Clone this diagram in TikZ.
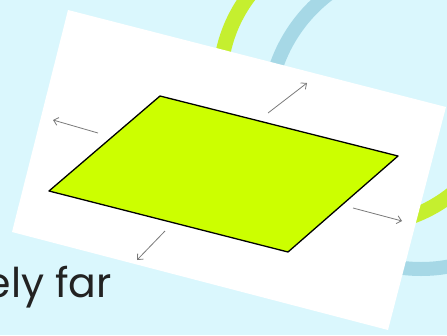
\documentclass[tikz,border=0pt]{standalone}
\usepackage{fontspec}
\setmainfont{Poppins}
\usetikzlibrary{arrows.meta}
\definecolor{bgcol}{HTML}{DAF7FD}
\definecolor{arcgreen}{HTML}{C5EF2F}
\definecolor{arcblue}{HTML}{A6D8E6}
\definecolor{planegreen}{HTML}{CCFF00}
\definecolor{arrowgray}{HTML}{7A7A7A}
\definecolor{textgray}{HTML}{222222}
\tikzset{
  arcband/.style={line width=15pt},
  pushar/.style={draw=arrowgray, line width=0.8pt, -{Straight Barb[length=4.5pt,width=8pt]}},
  plane/.style={fill=planegreen, draw=black, line width=1.3pt, line join=round},
}
\begin{document}
\begin{tikzpicture}[x=1pt,y=-1pt]
\useasboundingbox (0,0) rectangle (447,335);
\clip (0,0) rectangle (447,335);
\fill[bgcol] (0,0) rectangle (447,335);
% background arcs
\draw[arcband, arcgreen] (363,82) circle[radius=143pt];
\draw[arcband, arcblue, line width=14pt] (421,116) circle[radius=153pt];
% partial text
\node[anchor=base east, inner sep=0pt, text=textgray, font=\fontsize{41}{41}\selectfont] (txt) at (112,297) {ely far};
% white photo
\fill[white] (68,10) -- (446,107) -- (388,330) -- (12,232) -- cycle;
% plane
\coordinate (pT) at (160,96);
\coordinate (pR) at (398,156);
\coordinate (pB) at (288,252);
\coordinate (pL) at (49,191);
\draw[plane] (pT) -- (pR) -- (pB) -- (pL) -- cycle;
% arrows
\coordinate (a1s) at (98,133); \coordinate (a1e) at (53,120);
\coordinate (a2s) at (268,113); \coordinate (a2e) at (307,83);
\coordinate (a3s) at (353,208); \coordinate (a3e) at (402,221);
\coordinate (a4s) at (165,231); \coordinate (a4e) at (137,260);
\draw[pushar] (a1s) -- (a1e);
\draw[pushar] (a2s) -- (a2e);
\draw[pushar] (a3s) -- (a3e);
\draw[pushar] (a4s) -- (a4e);
\end{tikzpicture}
\end{document}
